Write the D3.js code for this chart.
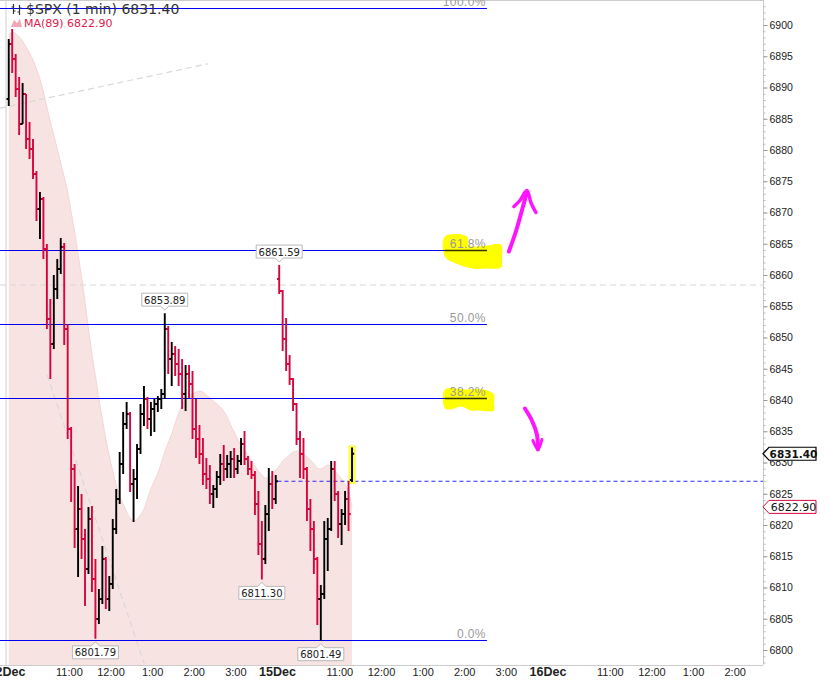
<!DOCTYPE html>
<html>
<head>
<meta charset="utf-8">
<script src="https://cdn.jsdelivr.net/npm/d3@7"></script>
<style>
  body { margin: 0; background: #fff; }
  svg { display: block; }
</style>
</head>
<body>
<script>
const w = 830;
const h = 681;
const plotRight = 763;
const plotBottom = 665;

// sessions: each day is 390 one-minute slots (9:30 - 16:00), bars are 5 min
const days = ["12Dec", "15Dec", "16Dec"];
const hourLabels = ["11:00", "12:00", "1:00", "2:00", "3:00"];
const hourOffsets = [90, 150, 210, 270, 330];
const yTicks = d3.range(6800, 6901, 5);

// 12Dec
const open12 = [6888.16,6896.96,6894.56,6889.76,6884.16,6888.96,6881.76,6880.16,6876.16,6870.56,
  6872.16,6864.16,6852.96,6848.96,6857.76,6860.96,6864.48,6851.36,6835.36,6828.96,
  6819.36,6822.56,6817.76,6812.96,6820.96,6811.36,6804.96,6808.16,6814.56,6808.16,
  6810.56,6819.36,6824.16,6829.76,6836.16,6837.76,6826.56,6827.36,6832.16,6837.76,
  6840.16,6836.96,6838.56,6839.36,6840.16,6840.96,6851.36,6846.56,6847.36,6845.76,
  6844.16,6840.96,6844.16,6842.56,6835.36,6833.76,6831.36,6828.16,6827.36,6824.96,
  6825.76,6827.68,6829.76,6828.96,6829.76,6830.56,6828.96,6830.24,6832.96,6830.56,
  6828.96,6828.00,6823.36,6816.96,6814.56,6821.76,6826.56,6824.16];
const high12 = [6897.76,6899.36,6895.36,6891.68,6890.72,6888.96,6884.48,6881.76,6876.64,6873.28,
  6872.48,6864.96,6856.16,6860.00,6862.56,6865.92,6865.12,6852.16,6835.68,6829.76,
  6826.24,6824.96,6819.36,6822.88,6823.04,6814.56,6809.76,6816.64,6814.88,6811.84,
  6820.96,6825.76,6831.68,6838.08,6839.68,6838.08,6828.96,6832.96,6839.36,6842.24,
  6840.48,6839.68,6840.16,6840.64,6841.76,6853.89,6851.84,6849.28,6848.64,6848.16,
  6846.56,6845.60,6845.60,6844.64,6840.16,6836.00,6833.92,6830.72,6829.60,6826.40,
  6828.64,6831.36,6832.80,6831.20,6831.84,6832.32,6831.20,6833.92,6835.04,6831.04,
  6830.24,6828.64,6825.44,6820.64,6823.20,6829.12,6828.64,6828.00];
const low12 = [6887.04,6892.32,6888.48,6882.40,6884.16,6880.16,6878.56,6875.36,6868.64,6865.76,
  6862.56,6851.36,6843.36,6848.16,6856.16,6860.16,6848.80,6833.76,6823.68,6816.32,
  6811.68,6814.56,6807.04,6812.16,6809.28,6801.79,6804.16,6807.36,6806.56,6806.24,
  6809.76,6818.56,6823.36,6828.16,6835.36,6825.28,6820.48,6824.16,6831.36,6835.84,
  6835.36,6834.24,6834.88,6838.08,6838.56,6840.16,6844.16,6842.24,6843.84,6842.24,
  6838.56,6838.24,6840.32,6833.76,6830.72,6829.76,6826.40,6825.76,6823.36,6822.72,
  6824.32,6826.40,6827.04,6827.52,6827.52,6827.52,6828.16,6829.60,6829.60,6828.00,
  6827.36,6821.60,6815.20,6811.30,6813.76,6819.04,6822.56,6823.36];
const close12 = [6896.96,6894.56,6889.76,6884.16,6888.96,6881.76,6880.16,6876.16,6870.56,6872.16,
  6864.16,6852.96,6848.96,6857.76,6860.96,6864.48,6851.36,6835.36,6828.96,6819.36,
  6822.56,6817.76,6812.96,6820.96,6811.36,6804.96,6808.16,6814.56,6808.16,6810.56,
  6819.36,6824.16,6829.76,6836.16,6837.76,6826.56,6827.36,6832.16,6837.76,6840.16,
  6836.96,6838.56,6839.36,6840.16,6840.96,6851.36,6846.56,6847.36,6845.76,6844.16,
  6840.96,6844.16,6842.56,6835.36,6833.76,6831.36,6828.16,6827.36,6824.96,6825.76,
  6827.68,6829.76,6828.96,6829.76,6830.56,6828.96,6830.24,6832.96,6830.56,6828.96,
  6828.00,6823.36,6816.96,6814.56,6821.76,6826.56,6824.16,6827.00];
const ma12 = [6898.40,6898.88,6898.56,6898.08,6897.44,6896.48,6895.52,6894.40,6892.96,6891.36,
  6889.28,6886.88,6884.48,6882.40,6880.16,6877.92,6875.68,6873.28,6870.08,6866.88,
  6863.36,6859.68,6855.68,6851.36,6847.36,6843.84,6840.16,6836.96,6833.76,6831.04,
  6828.64,6826.40,6824.64,6823.36,6822.08,6821.12,6820.64,6820.96,6821.60,6822.56,
  6824.16,6825.76,6827.04,6828.32,6829.92,6831.68,6833.12,6834.56,6836.32,6837.92,
  6839.20,6840.16,6840.64,6840.96,6841.28,6841.44,6841.28,6840.80,6840.32,6839.84,
  6839.36,6838.88,6838.24,6837.28,6836.00,6834.88,6833.76,6832.80,6832.00,6831.20,
  6830.24,6829.44,6828.64,6828.00,6827.52,6827.52,6828.00,6828.80];

// 15Dec
const open15 = [6859.36,6857.44,6849.76,6845.76,6843.36,6839.36,6833.76,6831.36,6828.96,6822.56,
  6819.36,6814.56,6808.16,6808.96,6817.76,6819.36,6828.96,6824.96,6820.16,6821.76,
  6824.16,6827.20];
const high15 = [6861.59,6857.60,6853.12,6847.20,6843.52,6839.52,6835.04,6833.92,6829.28,6824.16,
  6820.64,6814.88,6810.40,6820.64,6821.12,6830.24,6830.24,6825.44,6822.56,6825.44,
  6827.04,6832.40];
const low15 = [6856.96,6847.84,6844.64,6842.40,6838.24,6832.80,6827.52,6827.36,6820.64,6815.84,
  6812.16,6804.00,6801.49,6808.16,6812.64,6819.04,6823.84,6817.92,6816.80,6820.00,
  6819.04,6826.90];
const close15 = [6857.44,6849.76,6845.76,6843.36,6839.36,6833.76,6831.36,6828.96,6822.56,6819.36,
  6814.56,6808.16,6808.96,6817.76,6819.36,6828.96,6824.96,6820.16,6821.76,6824.16,
  6821.76,6831.40];
const ma15 = [6829.44,6830.24,6830.72,6831.20,6831.68,6831.84,6831.68,6831.36,6830.88,6830.40,
  6829.76,6829.12,6828.96,6829.28,6829.60,6829.28,6828.64,6828.00,6827.36,6826.40,
  6825.44,6822.90];

// fibonacci retracement from the 15Dec low up to the swing high
const fibLow = 6801.49;
const fibHigh = 6902.75;
const fibPct = [0, 38.2, 50, 61.8, 100];
const fibEnd = 692; // minutes, where the lines stop

const prevClose = 6827.00;
const hLevel = 6858.4;
const trendA = [[-10, 6886.7], [290, 6893.8]];
const trendB = [[58, 6844.0], [198, 6797.8]];

// [day, bar, side] of the labelled highs and lows
const callouts = [[0, 25, "low"], [0, 45, "high"], [0, 73, "low"], [1, 0, "high"], [1, 12, "low"]];

const barMin = 5;
const sessions = [
  { o: open12, h: high12, l: low12, c: close12, ma: ma12 },
  { o: open15, h: high15, l: low15, c: close15, ma: ma15 }
];
const bars = [];
sessions.forEach((s, d) => {
  s.c.forEach((c, i) => {
    bars.push({ day: d, i: i, t: d * 390 + i * barMin + barMin / 2,
      o: s.o[i], h: s.h[i], l: s.l[i], c: c, ma: s.ma[i] });
  });
});

const xScale = d3.scaleLinear().domain([0, 1170]).range([7, 7 + 1170 * 0.6935]);
const yScale = d3.scaleLinear().domain([6800, 6900]).range([650, 25]);

const red = "#d6063c";
const blue = "#0000f0";
const fmt = d3.format(".2f");

const svg = d3.select("body").append("svg").attr("width", w).attr("height", h);

svg.append("defs").append("clipPath").attr("id", "plot")
  .append("rect").attr("x", 0).attr("y", 0).attr("width", plotRight).attr("height", plotBottom);

const plot = svg.append("g").attr("clip-path", "url(#plot)");

// MA(89) area down to the bottom of the plot
plot.append("path")
  .datum(bars)
  .attr("d", d3.area().x(d => xScale(d.t)).y0(plotBottom).y1(d => yScale(d.ma)).curve(d3.curveMonotoneX))
  .attr("fill", "#f8e3e3");
plot.append("path")
  .datum(bars)
  .attr("d", d3.line().x(d => xScale(d.t)).y(d => yScale(d.ma)).curve(d3.curveMonotoneX))
  .attr("fill", "none")
  .attr("stroke", "#f4d6d6")
  .attr("stroke-width", 1);

// frame
plot.append("line").attr("x1", 0).attr("x2", plotRight).attr("y1", 0.5).attr("y2", 0.5).attr("stroke", "#ccc");
plot.append("line").attr("x1", xScale(0) - 1).attr("x2", xScale(0) - 1).attr("y1", 0).attr("y2", plotBottom).attr("stroke", "#cfcfcf");
svg.append("line").attr("x1", 0).attr("x2", plotRight).attr("y1", plotBottom + 0.5).attr("y2", plotBottom + 0.5).attr("stroke", "#ccc");

// title / legend
const icon = svg.append("g").attr("stroke", "#333").attr("stroke-width", 1.2).attr("fill", "none");
icon.append("path").attr("d", "M13.5,4V14M11.5,7H13.5M13.5,11H15.5");
icon.append("path").attr("d", "M19.5,5V15M17.5,12H19.5M19.5,8H21.5");
svg.append("text").attr("x", 26).attr("y", 14)
  .style("font-family", "DejaVu Sans").style("font-size", "14px").attr("fill", "#333")
  .text("$SPX (1 min) " + fmt(close15[close15.length - 1]));
svg.append("path").attr("d", "M11,27L14,20L17,23L20,19L22,27Z").attr("fill", "#f0a8b4");
svg.append("text").attr("x", 24).attr("y", 27)
  .style("font-family", "DejaVu Sans").style("font-size", "11px").attr("fill", "#e0204c")
  .text("MA(89) " + fmt(ma15[ma15.length - 1]));

// dashed guide lines
const guide = d3.line().x(d => xScale(d[0])).y(d => yScale(d[1]));
[trendA, trendB].forEach(tl => {
  plot.append("path").attr("d", guide(tl)).attr("fill", "none")
    .attr("stroke", "#d8d8d8").attr("stroke-width", 1.2).attr("stroke-dasharray", "6,4");
});
plot.append("line")
  .attr("x1", 0).attr("x2", plotRight)
  .attr("y1", yScale(hLevel)).attr("y2", yScale(hLevel))
  .attr("stroke", "#d8d8d8").attr("stroke-width", 1.2).attr("stroke-dasharray", "6,4");

// hand drawn yellow marker under the 61.8% and 38.2% labels
const fibPrice = p => fibLow + p / 100 * (fibHigh - fibLow);
// keep the thin level lines on whole pixel rows
const fibRow = p => 2 * Math.round(yScale(fibPrice(p)) / 2) + 0.5;
const anchor = p => [xScale(fibEnd), fibRow(p)];
const rel = (a, pts) => pts.map(q => [a[0] + q[0], a[1] + q[1]]);
const blob = d3.line().curve(d3.curveCatmullRomClosed);
const a618 = anchor(61.8), a382 = anchor(38.2);
plot.append("path")
  .attr("d", blob(rel(a618, [[-42, -14], [-20, -14], [-18, -5], [0, -5], [14, -6], [15, 8], [14, 17], [0, 18], [-15, 18], [-31, 13], [-42, 6]])))
  .attr("fill", "#ffff00");
plot.append("path")
  .attr("d", blob(rel(a382, [[-42, -9], [-20, -9], [-3, -9], [7, -4], [7, 5], [7, 12], [-8, 12], [-16, 12], [-26, 8], [-36, 11], [-42, 10]])))
  .attr("fill", "#ffff00");

// fib lines and labels
const fibG = plot.append("g");
fibPct.forEach(p => {
  const y = fibRow(p);
  fibG.append("line").attr("x1", 0).attr("x2", xScale(fibEnd)).attr("y1", y).attr("y2", y)
    .attr("stroke", blue).attr("stroke-width", 1.1);
  fibG.append("text").attr("x", xScale(fibEnd) - 1).attr("y", y - 3)
    .attr("text-anchor", "end")
    .style("font-family", "Liberation Sans, Arial").style("font-size", "12px")
    .style("letter-spacing", "0.4px").attr("fill", "#9a9a9a")
    .text(p.toFixed(1) + "%");
});
// where the marker covers a line it reads dark
[a618, a382].forEach(a => {
  fibG.append("line").attr("x1", a[0] - 42).attr("x2", a[0]).attr("y1", a[1]).attr("y2", a[1])
    .attr("stroke", "#333300").attr("stroke-width", 1.3);
});

// previous close
plot.append("line")
  .attr("x1", xScale(390)).attr("x2", plotRight)
  .attr("y1", yScale(prevClose)).attr("y2", yScale(prevClose))
  .attr("stroke", "#2a2aff").attr("stroke-width", 1.2).attr("stroke-dasharray", "4,3");

// highlight behind the last bar
const last = bars[bars.length - 1];
plot.append("rect")
  .attr("x", xScale(last.t) - 3.5).attr("y", yScale(last.h) - 2)
  .attr("width", 7).attr("height", yScale(last.l) - yScale(last.h) + 4)
  .attr("fill", "#ffff3a");

// OHLC bars
plot.selectAll("path.bar")
  .data(bars)
  .join("path")
  .attr("class", "bar")
  .attr("d", d => {
    const x = xScale(d.t);
    return "M" + x + "," + yScale(d.h) + "V" + yScale(d.l) +
      "M" + (x - 2.2) + "," + yScale(d.o) + "H" + x +
      "M" + x + "," + yScale(d.c) + "H" + (x + 2.2);
  })
  .attr("fill", "none")
  .attr("stroke", d => d.c >= d.o ? "#000" : red)
  .attr("stroke-width", 1.9);

// callouts on the swing highs and lows
const calloutG = plot.append("g");
callouts.forEach(([d, i, side]) => {
  const b = bars.find(e => e.day === d && e.i === i);
  const cx = xScale(b.t);
  const bw = 46, bh = 13;
  const left = cx - bw / 2, right = cx + bw / 2;
  let top, p;
  if (side === "high") {
    const bottom = yScale(b.h) - 7;
    top = bottom - bh;
    p = "M" + left + "," + top + "H" + right + "V" + bottom + "H" + (cx + 4) +
      "L" + cx + "," + (bottom + 4) + "L" + (cx - 4) + "," + bottom + "H" + left + "Z";
  } else {
    top = yScale(b.l) + 7;
    p = "M" + left + "," + top + "H" + (cx - 4) + "L" + cx + "," + (top - 4) +
      "L" + (cx + 4) + "," + top + "H" + right + "V" + (top + bh) + "H" + left + "Z";
  }
  calloutG.append("path").attr("d", p).attr("fill", "#fff").attr("stroke", "#b8b8b8");
  calloutG.append("text").attr("x", cx).attr("y", top + 10.5).attr("text-anchor", "middle")
    .style("font-family", "DejaVu Sans").style("font-size", "10px").attr("fill", "#222")
    .text(fmt(side === "high" ? b.h : b.l));
});

// hand drawn arrows
const marks = plot.append("g");
const stroke = d3.line().curve(d3.curveCatmullRom);
const pink = "#ff14ff";
marks.append("path").attr("d", stroke(rel(a618, [[22, 1], [29, -19], [35, -40], [40, -58]])))
  .attr("fill", "none").attr("stroke", pink).attr("stroke-width", 4).attr("stroke-linecap", "round");
marks.append("path").attr("d", stroke(rel(a618, [[27, -44], [33, -50], [40, -60], [44, -48], [49, -38]])))
  .attr("fill", "none").attr("stroke", pink).attr("stroke-width", 3.5).attr("stroke-linecap", "round").attr("stroke-linejoin", "round");
marks.append("path").attr("d", stroke(rel(a382, [[38, 10], [45, 22], [50, 36], [51, 51]])))
  .attr("fill", "none").attr("stroke", pink).attr("stroke-width", 4).attr("stroke-linecap", "round");
marks.append("path").attr("d", stroke(rel(a382, [[46, 42], [51, 51], [55, 41]])))
  .attr("fill", "none").attr("stroke", pink).attr("stroke-width", 3).attr("stroke-linecap", "round").attr("stroke-linejoin", "round");

// right price axis
svg.append("line").attr("x1", plotRight + 0.5).attr("x2", plotRight + 0.5).attr("y1", 0).attr("y2", plotBottom)
  .attr("stroke", "#c8c8c8");
const minor = svg.append("g")
  .attr("transform", "translate(" + (plotRight + 0.5) + ",0)")
  .call(d3.axisRight(yScale).tickValues(d3.range(6798, 6904, 1)).tickSize(2).tickFormat(""));
minor.select(".domain").remove();
minor.selectAll("line").attr("stroke", "#bbb");
const yAxis = svg.append("g")
  .attr("transform", "translate(" + (plotRight + 0.5) + ",0)")
  .call(d3.axisRight(yScale).tickValues(yTicks).tickSize(4).tickPadding(2).tickFormat(d3.format("d")));
yAxis.select(".domain").remove();
yAxis.selectAll("line").attr("stroke", "#999");
yAxis.selectAll("text")
  .style("font-family", "Liberation Sans, Arial").style("font-size", "10.5px").attr("fill", "#222");

// price tags on the axis
function tag(value, color, bold) {
  const y = yScale(value);
  const x0 = plotRight;
  svg.append("path")
    .attr("d", "M" + x0 + "," + y + "L" + (x0 + 6) + "," + (y - 6.5) + "H" + 816 + "V" + (y + 6.5) + "H" + (x0 + 6) + "Z")
    .attr("fill", "#fff").attr("stroke", color).attr("stroke-width", bold ? 1.2 : 1);
  svg.append("text").attr("x", x0 + 6 + 24.5).attr("y", y + 4).attr("text-anchor", "middle")
    .style("font-family", "DejaVu Sans").style("font-size", bold ? "10.5px" : "11px")
    .style("font-weight", bold ? "bold" : "normal").attr("fill", "#111")
    .text(fmt(value));
}
tag(ma15[ma15.length - 1], red, false);
tag(close15[close15.length - 1], "#000", true);

// time axis labels
const xAxis = svg.append("g")
  .style("font-family", "Liberation Sans, Arial").attr("fill", "#222");
days.forEach((d, k) => {
  xAxis.append("text").attr("x", xScale(k * 390)).attr("y", 676).attr("text-anchor", "middle")
    .style("font-size", "12.5px").style("font-weight", "bold").text(d);
  hourLabels.forEach((lab, j) => {
    const x = xScale(k * 390 + hourOffsets[j]);
    if (x > plotRight - 10) return;
    xAxis.append("text").attr("x", x).attr("y", 676).attr("text-anchor", "middle")
      .style("font-size", "11px").text(lab);
  });
});
</script>
</body>
</html>
